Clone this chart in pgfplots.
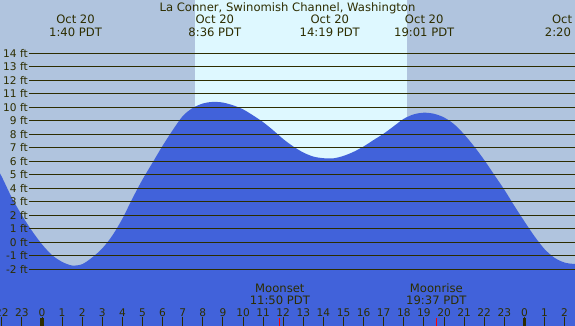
\documentclass[border=0pt]{standalone}
\usepackage{pgfplots}
\pgfplotsset{compat=1.18}
\usepackage{pgfplotstable}
\usepackage{fontspec}
\setmainfont{DejaVu Sans}
\definecolor{night}{RGB}{176,196,222}
\definecolor{day}{RGB}{222,248,255}
\definecolor{tide}{RGB}{65,98,218}
\definecolor{ink}{RGB}{45,45,0}
\tikzset{
  toplab/.style={font=\fontsize{11.6}{13}\selectfont, text=ink, anchor=base, inner sep=0pt},
  hourlab/.style={font=\fontsize{10.6}{12}\selectfont, text=ink, anchor=base, inner sep=0pt},
  ftlab/.style={font=\fontsize{10.6}{12}\selectfont, text=ink, anchor=east, inner sep=0pt},
}
\pgfplotstableread{
h v
-2.50 6.25
-2.00 4.85
-1.50 3.30
-1.00 2.00
-0.50 0.85
0.00 -0.15
0.50 -0.95
1.00 -1.45
1.50 -1.72
2.00 -1.62
2.50 -1.12
3.00 -0.45
3.50 0.50
4.00 1.75
4.50 3.25
5.00 4.65
5.50 5.90
6.00 7.15
6.50 8.30
7.00 9.35
7.50 9.95
8.00 10.28
8.50 10.40
9.00 10.35
9.50 10.15
10.00 9.85
10.50 9.40
11.00 8.90
11.50 8.30
12.00 7.65
12.50 7.10
13.00 6.65
13.50 6.35
14.00 6.23
14.50 6.22
15.00 6.40
15.50 6.70
16.00 7.10
16.50 7.58
17.00 8.05
17.50 8.60
18.00 9.15
18.50 9.48
19.00 9.60
19.50 9.52
20.00 9.25
20.50 8.75
21.00 8.00
21.50 7.10
22.00 6.10
22.50 5.00
23.00 3.90
23.50 2.70
24.00 1.55
24.50 0.45
25.00 -0.50
25.50 -1.15
26.00 -1.50
26.50 -1.60
27.00 -1.50
}\tidedata
\begin{document}
\begin{tikzpicture}
\begin{axis}[
  width=575pt, height=326pt, scale only axis,
  xmin=-2.0896, xmax=26.5174, ymin=-6.2, ymax=17.948,
  hide axis,
]
% background night
\addplot[fill=night, draw=none] coordinates {(-2.0896,-6.2) (26.5174,-6.2) (26.5174,17.948) (-2.0896,17.948)} -- cycle;
% daylight band
\addplot[fill=day, draw=none] coordinates {(7.612,-6.2) (18.144,-6.2) (18.144,17.948) (7.612,17.948)} -- cycle;
% tide
\addplot[fill=tide, draw=none, smooth] table[x=h,y=v] {\tidedata} -- (axis cs:27,-6.3) -- (axis cs:-2.5,-6.3) -- cycle;
% grid lines and labels
\pgfplotsinvokeforeach{-2,...,14}{
  \draw[ink, line width=1pt] (axis cs:-0.647,#1) -- (axis cs:26.6,#1);
  \node[ftlab] at (axis cs:-0.697,#1) {#1 ft};
}
% hour ticks
\pgfplotsinvokeforeach{-2,...,26}{
  \draw[ink, line width=1pt] (axis cs:#1,-5.51) -- (axis cs:#1,-6.3);
}
\draw[ink, line width=3.7pt] (axis cs:0,-5.61) -- (axis cs:0,-6.3);
\draw[ink, line width=3.7pt] (axis cs:24,-5.61) -- (axis cs:24,-6.3);
\draw[red, line width=1pt] (axis cs:11.833,-5.61) -- (axis cs:11.833,-6.3);
\draw[red, line width=1pt] (axis cs:19.617,-5.61) -- (axis cs:19.617,-6.3);
\foreach \h/\l in {-2/22,-1/23,0/0,1/1,2/2,3/3,4/4,5/5,6/6,7/7,8/8,9/9,10/10,11/11,12/12,13/13,14/14,15/15,16/16,17/17,18/18,19/19,20/20,21/21,22/22,23/23,24/0,25/1,26/2}{
  \edef\temp{\noexpand\node[hourlab] at (axis cs:\h,-5.46) {\l};}\temp
}
% moon labels
\node[toplab] at (axis cs:11.833,-3.73) {Moonset};
\node[toplab] at (axis cs:11.833,-4.59) {11:50 PDT};
\node[toplab] at (axis cs:19.617,-3.73) {Moonrise};
\node[toplab] at (axis cs:19.617,-4.59) {19:37 PDT};
% extreme labels
\node[toplab] at (axis cs:1.667,16.17) {Oct 20};
\node[toplab] at (axis cs:1.667,15.28) {1:40 PDT};
\node[toplab] at (axis cs:8.6,16.17) {Oct 20};
\node[toplab] at (axis cs:8.6,15.28) {8:36 PDT};
\node[toplab] at (axis cs:14.317,16.17) {Oct 20};
\node[toplab] at (axis cs:14.317,15.28) {14:19 PDT};
\node[toplab] at (axis cs:19.017,16.17) {Oct 20};
\node[toplab] at (axis cs:19.017,15.28) {19:01 PDT};
\node[toplab] at (axis cs:26.333,16.17) {Oct 20};
\node[toplab] at (axis cs:26.333,15.28) {2:20 PDT};
% title
\node[toplab] at (axis cs:12.214,17.08) {La Conner, Swinomish Channel, Washington};
\end{axis}
\pgfresetboundingbox
\path[use as bounding box] (current axis.south west) rectangle (current axis.north east);
\end{tikzpicture}
\end{document}
